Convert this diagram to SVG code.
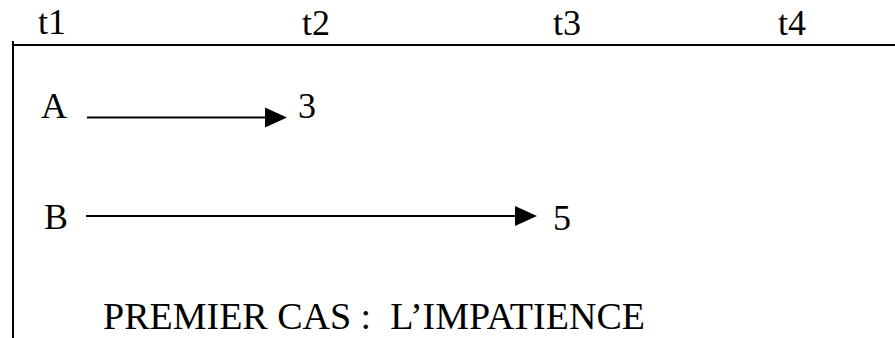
<svg xmlns="http://www.w3.org/2000/svg" width="895" height="338" viewBox="0 0 895 338">
<style>
text{font-family:"Liberation Serif","Times New Roman",serif;font-size:36px;fill:#000;white-space:pre}
.title{font-size:38px}
.ax{stroke:#000;stroke-width:2;fill:none}
.arr{stroke:#000;stroke-width:2;fill:none;marker-end:url(#ah)}
</style>
<defs>
<marker id="ah" markerWidth="11" markerHeight="10" refX="0" refY="5" orient="auto" markerUnits="userSpaceOnUse" viewBox="0 0 11 10" overflow="visible">
<path d="M0,-5 L22,5 L0,15 Z" fill="#000"/>
</marker>
</defs>
<g id="axes">
<line class="ax" x1="12" y1="45" x2="895" y2="45"/>
<line class="ax" x1="13" y1="41" x2="13" y2="338"/>
<text x="38" y="34">t1</text>
<text x="302" y="35">t2</text>
<text x="553" y="35">t3</text>
<text x="778" y="35">t4</text>
</g>
<g id="nodeA"><text x="41" y="118">A</text></g>
<g id="nodeA3"><text x="298" y="118">3</text></g>
<g id="nodeB"><text x="44" y="229">B</text></g>
<g id="nodeB5"><text x="553" y="230">5</text></g>
<g id="connectors">
<line class="arr" x1="87" y1="117.5" x2="265" y2="117.5"/>
<line class="arr" x1="86" y1="216" x2="515" y2="216"/>
</g>
<g id="title"><text class="title" x="103" y="329" xml:space="preserve">PREMIER CAS :  L’IMPATIENCE</text></g>
</svg>
